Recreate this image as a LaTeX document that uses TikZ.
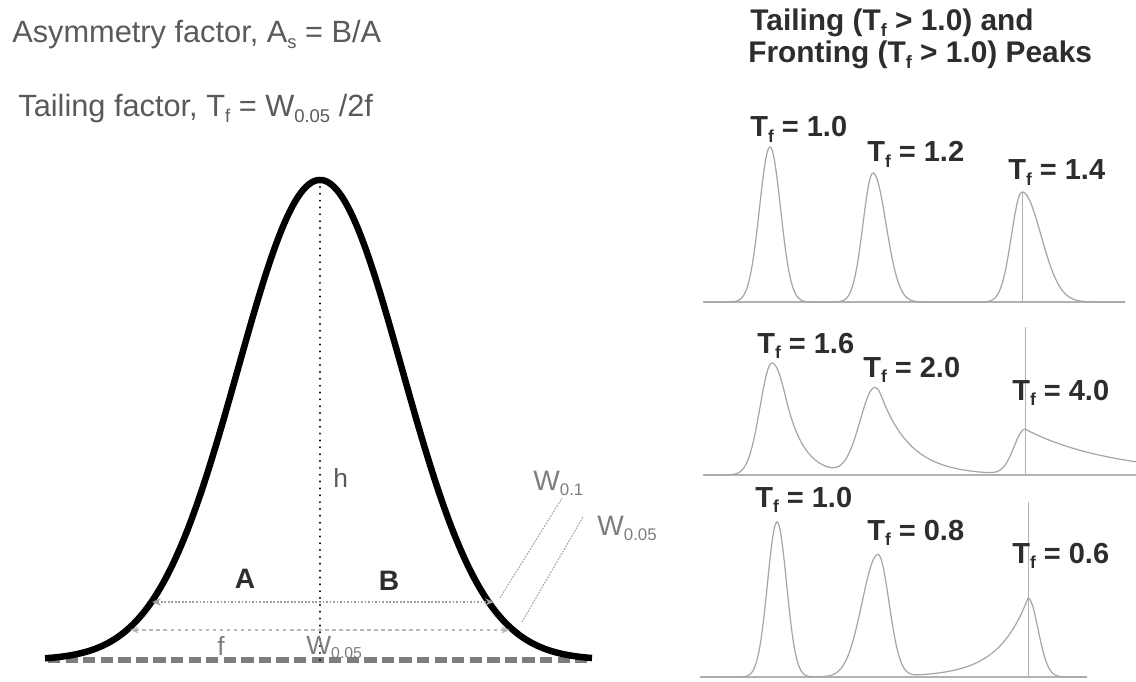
\documentclass[tikz,border=0pt]{standalone}
\usepackage{fontspec}
\setmainfont{Liberation Sans}
\usetikzlibrary{arrows.meta}
\definecolor{txtgray}{RGB}{90,90,90}
\definecolor{lblgray}{RGB}{125,125,125}
\definecolor{darktxt}{RGB}{45,45,45}
\newcommand{\tsub}[1]{\raisebox{-0.35ex}{\scalebox{0.6}{#1}}}

\begin{document}
\begin{tikzpicture}[x=0.02cm,y=-0.02cm,>=Stealth,
  declare function={
    gpk(\x,\c,\h,\l,\r)=\h*exp(-min(((\x-\c)/((\x<\c)*\l+(\x>=\c)*\r))^2/2,9));
    tpk(\x,\c,\h,\l,\s,\t)=\h*exp(-min((\x<\c)*((\x-\c)/\l)^2/2
      +(\x>=\c)*((\x-\c)<\s*\s/\t)*((\x-\c)/\s)^2/2
      +(\x>=\c)*((\x-\c)>=\s*\s/\t)*((\x-\c)/\t-\s*\s/(2*\t*\t)),9));
    fpk(\x,\c,\h,\l,\r)=\h*exp(-min((\x<\c)*(\c-\x)/\l+(\x>=\c)*((\x-\c)/\r)^2/2,9));
  },
  headtxt/.style={font=\fontsize{17.5}{20}\selectfont,text=txtgray,anchor=base west,inner sep=0pt},
  titletxt/.style={font=\bfseries\fontsize{17}{19}\selectfont,text=darktxt,anchor=base west,inner sep=0pt},
  peaklbl/.style={font=\bfseries\fontsize{16.5}{19}\selectfont,text=darktxt,anchor=base west,inner sep=0pt},
  smalllbl/.style={font=\fontsize{15}{17}\selectfont,text=lblgray,inner sep=0pt},
  trace/.style={gray!70,line width=0.7pt},
  baseln/.style={gray!60,line width=1.7pt},
  marker/.style={gray!60,line width=0.5pt}]
\useasboundingbox (0,0) rectangle (1136,682);

% left: definitions
\node[headtxt] (asym) at (12,43) {Asymmetry factor, A\tsub{s} = B/A};
\node[headtxt] (tail) at (18,117) {Tailing factor, T\tsub{f} = W\tsub{0.05} /2f};

% left: peak and widths
\coordinate (top) at (320,180);
\coordinate (foot) at (320,660);
\coordinate (bl) at (48,660);
\coordinate (br) at (592,660);
\draw[lblgray,line width=3.4pt,dash pattern=on 7pt off 3pt] (bl) -- (br);
\draw[black,line width=1.2pt,line cap=round,dash pattern=on 0.1pt off 3.8pt] (top) -- (foot);
\draw[line width=3.7pt] plot[domain=45:592,samples=200] (\x,{660-480*exp(-((\x-320)/82)^2/2)});

\coordinate (a10l) at (152,602);
\coordinate (a10r) at (494,602);
\coordinate (a05l) at (130,630);
\coordinate (a05r) at (510,630);
\draw[<->,gray!75,line width=1pt,dash pattern=on 1pt off 1pt,
  >={Stealth[length=5pt,width=4pt]}] (a10l) -- (a10r);
\draw[<->,gray!55,line width=0.8pt,dash pattern=on 2pt off 2pt,
  >={Stealth[length=5pt,width=4pt]}] (a05l) -- (a05r);

\node[font=\bfseries\fontsize{16}{18}\selectfont,text=darktxt,anchor=base,inner sep=0pt] (lA) at (245,588) {A};
\node[font=\bfseries\fontsize{16}{18}\selectfont,text=darktxt,anchor=base,inner sep=0pt] (lB) at (389,590) {B};
\node[smalllbl,anchor=base west,text=txtgray] (lh) at (333,487) {h};
\node[smalllbl,anchor=base] (lf) at (221,655) {f};
\node[smalllbl,anchor=base west] (lw) at (306,654) {W\tsub{0.05}};

\coordinate (ld1a) at (500,598);
\coordinate (ld1b) at (562,498);
\coordinate (ld2a) at (522,622);
\coordinate (ld2b) at (583,517);
\draw[gray!70,line width=0.6pt,dash pattern=on 1pt off 0.7pt] (ld1a) -- (ld1b);
\draw[gray!70,line width=0.6pt,dash pattern=on 1pt off 0.7pt] (ld2a) -- (ld2b);
\node[headtxt,font=\fontsize{16}{18}\selectfont,text=lblgray] (w10) at (533,490) {W\tsub{0.1}};
\node[headtxt,font=\fontsize{16}{18}\selectfont,text=lblgray] (w05) at (597,535) {W\tsub{0.05}};

% right: title
\node[titletxt] (ttl1) at (750,31) {Tailing (T\tsub{f} > 1.0) and};
\node[titletxt] (ttl2) at (748,63) {Fronting (T\tsub{f} > 1.0) Peaks};

% panel 1
\draw[baseln] (703,302) -- (1125,302);
\draw[marker] (1022,192) -- (1022,302);
\draw[trace] plot[domain=705:1125,samples=320]
  (\x,{302-gpk(\x,770,155,10.5,10.5)-gpk(\x,873,129,10,13)-gpk(\x,1022,110,10.5,19)});
\node[peaklbl] (p11) at (750,137) {T\tsub{f} = 1.0};
\node[peaklbl] (p12) at (867,162) {T\tsub{f} = 1.2};
\node[peaklbl] (p13) at (1008,180) {T\tsub{f} = 1.4};

% panel 2
\draw[baseln] (703,475) -- (1136,475);
\draw[marker] (1025,327) -- (1025,475);
\draw[trace] plot[domain=705:1136,samples=330]
  (\x,{475-tpk(\x,772,112,12,16,18)-tpk(\x,875,87,15,14,30)-tpk(\x,1025,45,11,10,90)});
\node[peaklbl] (p21) at (757,353) {T\tsub{f} = 1.6};
\node[peaklbl] (p22) at (863,377) {T\tsub{f} = 2.0};
\node[peaklbl] (p23) at (1012,400) {T\tsub{f} = 4.0};

% panel 3
\draw[baseln] (700,677) -- (1087,677);
\draw[marker] (1028,502) -- (1028,677);
\draw[trace] plot[domain=702:1087,samples=300]
  (\x,{677-gpk(\x,777,155,9.5,9.5)-gpk(\x,878,122,16,11)-fpk(\x,1028,79,30,10)});
\node[peaklbl] (p31) at (755,507) {T\tsub{f} = 1.0};
\node[peaklbl] (p32) at (867,540) {T\tsub{f} = 0.8};
\node[peaklbl] (p33) at (1012,563) {T\tsub{f} = 0.6};
\end{tikzpicture}
\end{document}
